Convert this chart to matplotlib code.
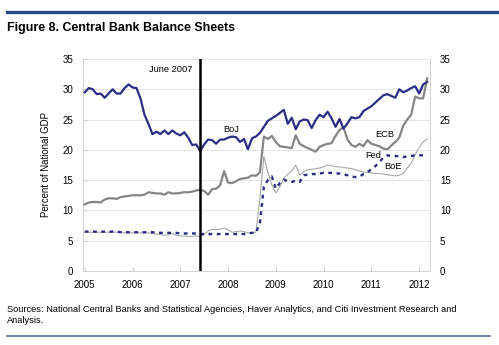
import numpy as np
import matplotlib
matplotlib.use("Agg")
import matplotlib.pyplot as plt
from matplotlib import font_manager

# monthly observations, Jan 2005 .. Mar 2012 (percent of national GDP)
boj = [29.5, 30.2, 30.0, 29.2, 29.3, 28.6, 29.3, 30.0, 29.3, 29.3, 30.2, 30.8,
       30.3, 30.2, 28.5, 25.8, 24.3, 22.6, 23.0, 22.6, 23.2, 22.6, 23.2, 22.7,
       22.4, 22.9, 22.0, 20.8, 20.9, 19.8, 20.9, 21.7, 21.6, 21.0, 21.7, 21.7,
       22.0, 22.2, 22.1, 21.3, 21.8, 20.1, 21.9, 22.2, 22.8, 23.8, 24.8, 25.2,
       25.6, 26.1, 26.6, 24.3, 25.3, 23.4, 24.7, 25.0, 24.9, 23.6, 24.9, 25.8,
       25.4, 26.3, 25.2, 23.8, 25.1, 23.5, 24.4, 25.4, 25.2, 25.4, 26.4, 26.8,
       27.2, 27.8, 28.4, 29.0, 29.2, 28.9, 28.6, 30.0, 29.5, 29.8, 30.2, 30.5,
       29.3, 30.8, 31.2]
ecb = [11.0, 11.3, 11.4, 11.4, 11.3, 11.8, 12.0, 12.0, 11.9, 12.2, 12.3, 12.4,
       12.5, 12.5, 12.5, 12.6, 13.0, 12.9, 12.8, 12.8, 12.6, 13.0, 12.8, 12.8,
       12.9, 13.0, 13.0, 13.1, 13.3, 13.4, 13.2, 12.6, 13.5, 13.6, 14.1, 16.5,
       14.6, 14.5, 14.8, 15.2, 15.3, 15.4, 15.8, 15.7, 16.3, 22.2, 21.8, 22.3,
       21.3, 20.6, 20.5, 20.4, 20.3, 22.4, 21.0, 20.6, 20.3, 20.0, 19.7, 20.5,
       20.8, 21.0, 21.1, 22.3, 23.3, 23.7, 21.7, 20.8, 20.5, 21.0, 20.6, 21.6,
       21.0, 20.8, 20.6, 20.2, 20.1, 20.7, 21.3, 22.0, 24.0, 25.0, 25.8, 28.8,
       28.5, 28.5, 31.8]
fed = [6.5, 6.5, 6.5, 6.5, 6.5, 6.5, 6.5, 6.5, 6.5, 6.4, 6.4, 6.4,
       6.4, 6.4, 6.4, 6.4, 6.4, 6.4, 6.3, 6.3, 6.3, 6.3, 6.3, 6.3,
       6.2, 6.2, 6.2, 6.2, 6.2, 6.1, 6.1, 6.1, 6.1, 6.1, 6.1, 6.1,
       6.1, 6.1, 6.1, 6.1, 6.1, 6.2, 6.3, 6.3, 8.0, 13.9, 15.0, 15.6,
       13.6, 14.5, 15.1, 14.8, 14.7, 14.9, 14.7, 15.8, 15.9, 16.0, 16.0, 16.1,
       16.2, 16.2, 16.2, 16.1, 16.1, 16.0, 15.8, 15.6, 15.5, 15.6, 16.0, 16.3,
       16.8, 17.3, 18.0, 18.7, 19.1, 19.0, 19.0, 18.9, 18.8, 18.9, 19.0, 19.1,
       19.1, 19.1, 19.1]
boe = [6.4, 6.4, 6.4, 6.4, 6.4, 6.4, 6.4, 6.4, 6.4, 6.4, 6.3, 6.3,
       6.3, 6.3, 6.3, 6.3, 6.3, 6.2, 6.1, 6.0, 5.9, 6.0, 6.2, 5.9,
       5.8, 5.8, 5.7, 5.7, 5.8, 5.7, 6.0, 6.6, 6.9, 6.8, 6.9, 7.1,
       6.8, 6.4, 6.5, 6.6, 6.5, 6.3, 6.3, 6.4, 12.0, 18.9, 16.3, 14.2,
       12.9, 13.9, 15.3, 16.0, 16.5, 17.5, 15.8, 16.4, 16.7, 16.8, 16.9, 17.0,
       17.2, 17.5, 17.4, 17.2, 17.2, 17.1, 17.0, 16.9, 16.7, 16.5, 16.3, 16.3,
       16.2, 16.1, 16.1, 16.0, 15.9, 15.8, 15.7, 15.8, 16.1, 17.0, 17.8, 19.2,
       20.4, 21.3, 21.8]

years = [2005, 2006, 2007, 2008, 2009, 2010, 2011, 2012]
yticks = [0, 5, 10, 15, 20, 25, 30, 35]

names = [f.name for f in font_manager.fontManager.ttflist]
narrow = "Liberation Sans Narrow" if "Liberation Sans Narrow" in names else "Liberation Sans"
plt.rcParams["font.family"] = ["Liberation Sans", "DejaVu Sans"]

t = 2005 + np.arange(len(boj)) / 12.0

fig = plt.figure(figsize=(4.99, 3.45), dpi=100)
ax = fig.add_axes([0.166, 0.2145, 0.696, 0.6145])

navy = "#2b2c86"
ax.plot(t, boe, color="#a8a8a8", lw=0.8, zorder=3)
ax.plot(t, fed, color=navy, lw=1.7, dashes=(1.6, 1.9), zorder=4)
ax.plot(t, ecb, color="#858585", lw=1.6, zorder=5)
ax.plot(t, boj, color=navy, lw=1.6, zorder=6)
ax.axvline(2007 + 5 / 12, color="black", lw=1.8, zorder=7)

ax.set_xlim(2004.96, 2012.23)
ax.set_ylim(0, 35)
ax.set_xticks(years)
ax.set_yticks(yticks)
ax.grid(axis="y", color="#e6e6e6", lw=0.7)
ax.set_axisbelow(True)
for s in ax.spines.values():
    s.set_color("#d0d0d0")
    s.set_linewidth(0.7)
ax.spines["top"].set_visible(False)
ax.tick_params(labelsize=7, colors="#d0d0d0", labelcolor="black", length=3,
               direction="in", labelright=True, right=False)
ax.tick_params(axis="x", pad=6.5)
ax.tick_params(axis="y", pad=7)
ax.set_ylabel("Percent of National GDP", fontsize=6.9, labelpad=8)

ax.text(2006.80, 33.2, "June 2007", fontsize=6.7, ha="center", va="center")
ax.text(2008.06, 23.4, "BoJ", fontsize=6.7, ha="center", va="center")
ax.text(2011.29, 22.6, "ECB", fontsize=6.7, ha="center", va="center")
ax.text(2011.04, 19.1, "Fed", fontsize=6.7, ha="center", va="center")
ax.text(2011.46, 17.2, "BoE", fontsize=6.7, ha="center", va="center")

# page furniture: rule above the title, title, sources, closing rule
fig.add_artist(plt.Line2D([0.014, 1.0], [0.965, 0.965], color="#2e4a8a", lw=2.4))
fig.text(0.014, 0.918, "Figure 8. Central Bank Balance Sheets", fontsize=8.9,
         fontweight="bold", family=narrow, va="center")
fig.text(0.014, 0.086,
         "Sources: National Central Banks and Statistical Agencies, Haver Analytics, and Citi Investment Research and\nAnalysis.",
         fontsize=6.7, va="center", linespacing=1.3)
fig.add_artist(plt.Line2D([0.014, 0.982], [0.026, 0.026], color="#5a6a90", lw=1.2))

fig.savefig("out.png", dpi=100)
